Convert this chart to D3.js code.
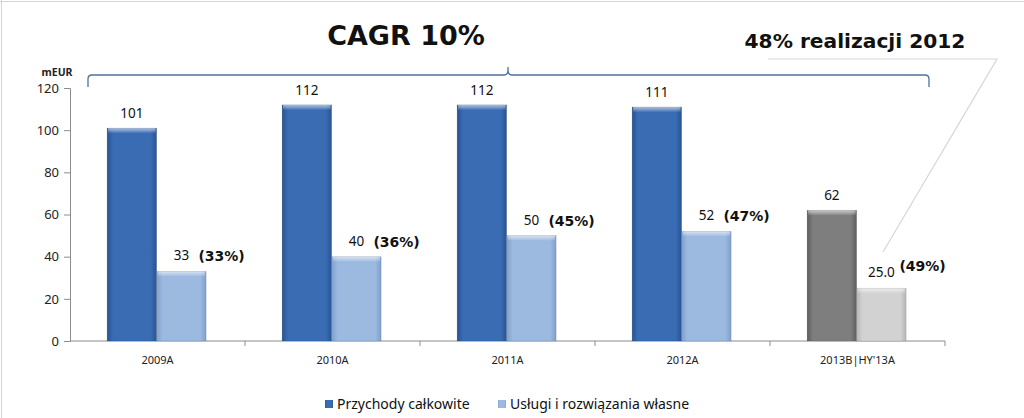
<!DOCTYPE html>
<html><head><meta charset="utf-8">
<script src="https://cdn.jsdelivr.net/npm/d3@7"></script>
<style>html,body{margin:0;padding:0;background:#fff;}svg{display:block;}</style>
</head><body>
<svg id="chart" width="1024" height="418"></svg>
<script>
const categories = ["2009A", "2010A", "2011A", "2012A", "2013B|HY'13A"];
const totalRevenue = [101, 112, 112, 111, 62];
const ownServices = [33, 40, 50, 52, 25.0];
const ownLabels = ["33", "40", "50", "52", "25.0"];
const shareLabels = ["(33%)", "(36%)", "(45%)", "(47%)", "(49%)"];
const yTicks = [0, 20, 40, 60, 80, 100, 120];
const seriesNames = ["Przychody całkowite", "Usługi i rozwiązania własne"];

const svg = d3.select("#chart");
const W = 1024, H = 418;
const m = {left: 70, right: 79, top: 88, bottom: 77};
const plotR = W - m.right, plotB = H - m.bottom;

const x0 = d3.scaleBand().domain(categories).range([m.left, plotR]).padding(0);
const bw = x0.bandwidth();
const x1 = d3.scaleBand().domain(["total", "own"]).range([bw * 0.212, bw * 0.778]).padding(0);
const y = d3.scaleLinear().domain([0, 120]).range([plotB, m.top]);

// frame lines (top & left)
svg.append("line").attr("x1", 0).attr("x2", W).attr("y1", 1.5).attr("y2", 1.5).attr("stroke", "#d4d4d4");
svg.append("line").attr("x1", 1.5).attr("x2", 1.5).attr("y1", 0).attr("y2", H).attr("stroke", "#d4d4d4");

// gradients
const defs = svg.append("defs");
function hGrad(id, edge, mid) {
  const g = defs.append("linearGradient").attr("id", id).attr("x1", "0").attr("x2", "1").attr("y1", "0").attr("y2", "0");
  g.append("stop").attr("offset", "0").attr("stop-color", edge);
  g.append("stop").attr("offset", "0.12").attr("stop-color", mid);
  g.append("stop").attr("offset", "0.88").attr("stop-color", mid);
  g.append("stop").attr("offset", "1").attr("stop-color", edge);
}
hGrad("gDark", "#275391", "#3a6cb4");
hGrad("gLight", "#7f9fcc", "#9cb9e0");
hGrad("gGray", "#5e5e5e", "#7e7e7e");
hGrad("gLGray", "#b5b5b5", "#d2d2d2");
const tg = defs.append("linearGradient").attr("id", "gTop").attr("x1", "0").attr("x2", "0").attr("y1", "0").attr("y2", "1");
tg.append("stop").attr("offset", "0").attr("stop-color", "#fff").attr("stop-opacity", 0.6);
tg.append("stop").attr("offset", "1").attr("stop-color", "#fff").attr("stop-opacity", 0.05);

// Title
svg.append("text").attr("x", 406).attr("y", 45).attr("text-anchor", "middle")
  .attr("font-family", "DejaVu Sans, Verdana, sans-serif").attr("font-weight", "bold")
  .attr("font-size", 27).attr("fill", "#111").text("CAGR 10%");
svg.append("text").attr("x", 855).attr("y", 48).attr("text-anchor", "middle")
  .attr("font-family", "DejaVu Sans, Verdana, sans-serif").attr("font-weight", "bold")
  .attr("font-size", 20.2).attr("fill", "#111").text("48% realizacji 2012");

// callout lines
svg.append("path").attr("d", "M768,59 L997,59 L883,252").attr("fill", "none").attr("stroke", "#d6d6d6").attr("stroke-width", 1.2);

// curly bracket
const bx0 = 88, bx1 = 929, bmid = 508, by = 75;
svg.append("path")
  .attr("d", `M${bx0},87 L${bx0},${by+4} Q${bx0},${by} ${bx0+4},${by} L${bmid-4},${by} Q${bmid},${by} ${bmid},${by-5} L${bmid},${by-8} L${bmid},${by-5} Q${bmid},${by} ${bmid+4},${by} L${bx1-4},${by} Q${bx1},${by} ${bx1},${by+4} L${bx1},87`)
  .attr("fill", "none").attr("stroke", "#4f729b").attr("stroke-width", 1.3);

// mEUR
svg.append("text").attr("x", 57).attr("y", 76).attr("text-anchor", "middle")
  .attr("font-family", "Noto Sans, sans-serif").attr("font-weight", "bold").attr("font-size", 10.5).attr("fill", "#222").text("mEUR");

// y axis
const yAxis = svg.append("g").attr("transform", `translate(${m.left},0)`)
  .call(d3.axisLeft(y).tickValues(yTicks).tickSize(6).tickPadding(5));
yAxis.select(".domain").attr("stroke", "#8c8c8c");
yAxis.selectAll(".tick line").attr("stroke", "#8c8c8c");
yAxis.selectAll(".tick text").attr("font-family", "Noto Sans, sans-serif").attr("font-size", 13).attr("fill", "#222");

// x axis
const xAxis = svg.append("g").attr("transform", `translate(0,${plotB})`);
xAxis.append("line").attr("x1", m.left).attr("x2", plotR).attr("y1", 0).attr("y2", 0).attr("stroke", "#8c8c8c");
xAxis.selectAll("line.tk").data(categories).enter().append("line").attr("class", "tk")
  .attr("x1", d => x0(d) + bw).attr("x2", d => x0(d) + bw).attr("y1", 0).attr("y2", 5).attr("stroke", "#8c8c8c");
xAxis.selectAll("text").data(categories).enter().append("text")
  .attr("x", d => x0(d) + bw / 2).attr("y", 23).attr("text-anchor", "middle")
  .attr("font-family", "Noto Sans, sans-serif").attr("font-size", 11).attr("fill", "#222").text(d => d);

// bars
const last = categories.length - 1;
function drawBar(g, xl, val, fillId) {
  const w = x1.bandwidth();
  const yt = y(val), h = plotB - yt;
  g.append("rect").attr("x", xl).attr("y", yt).attr("width", w).attr("height", h).attr("fill", `url(#${fillId})`);
  g.append("rect").attr("x", xl + 1).attr("y", yt).attr("width", w - 2).attr("height", 5).attr("fill", "url(#gTop)");
  g.append("rect").attr("x", xl).attr("y", yt).attr("width", w).attr("height", h).attr("fill", "none")
    .attr("stroke", "rgba(0,0,0,0.12)").attr("stroke-width", 0.8);
}
const bars = svg.append("g");
categories.forEach((c, i) => {
  const g = bars.append("g");
  drawBar(g, x0(c) + x1("total"), totalRevenue[i], i === last ? "gGray" : "gDark");
  drawBar(g, x0(c) + x1("own"), ownServices[i], i === last ? "gLGray" : "gLight");
});

// value labels
const lab = svg.append("g").attr("font-family", "Noto Sans, sans-serif").attr("font-size", 13.5).attr("fill", "#111");
categories.forEach((c, i) => {
  const cx1 = x0(c) + x1("total") + x1.bandwidth() / 2;
  const cx2 = x0(c) + x1("own") + x1.bandwidth() / 2;
  lab.append("text").attr("x", cx1).attr("y", y(totalRevenue[i]) - 10).attr("text-anchor", "middle").text(totalRevenue[i]);
  lab.append("text").attr("x", cx2).attr("y", y(ownServices[i]) - 11).attr("text-anchor", "middle").text(ownLabels[i]);
  svg.append("text").attr("x", cx2 + (i === last ? 18 : 17)).attr("y", y(ownServices[i]) - (i === last ? 17 : 10))
    .attr("font-family", "DejaVu Sans, Verdana, sans-serif").attr("font-weight", "bold").attr("font-size", 14)
    .attr("fill", "#111").text(shareLabels[i]);
});

// legend
const legend = svg.append("g");
const legendX = [325, 498];
const legendFill = ["gDark", "gLight"];
seriesNames.forEach((n, i) => {
  legend.append("rect").attr("x", legendX[i]).attr("y", 400).attr("width", 8).attr("height", 8).attr("fill", `url(#${legendFill[i]})`);
  legend.append("text").attr("x", legendX[i] + 12).attr("y", 409).attr("font-family", "Noto Sans, sans-serif")
    .attr("font-size", 14).attr("fill", "#111").text(n);
});
</script>
</body></html>
